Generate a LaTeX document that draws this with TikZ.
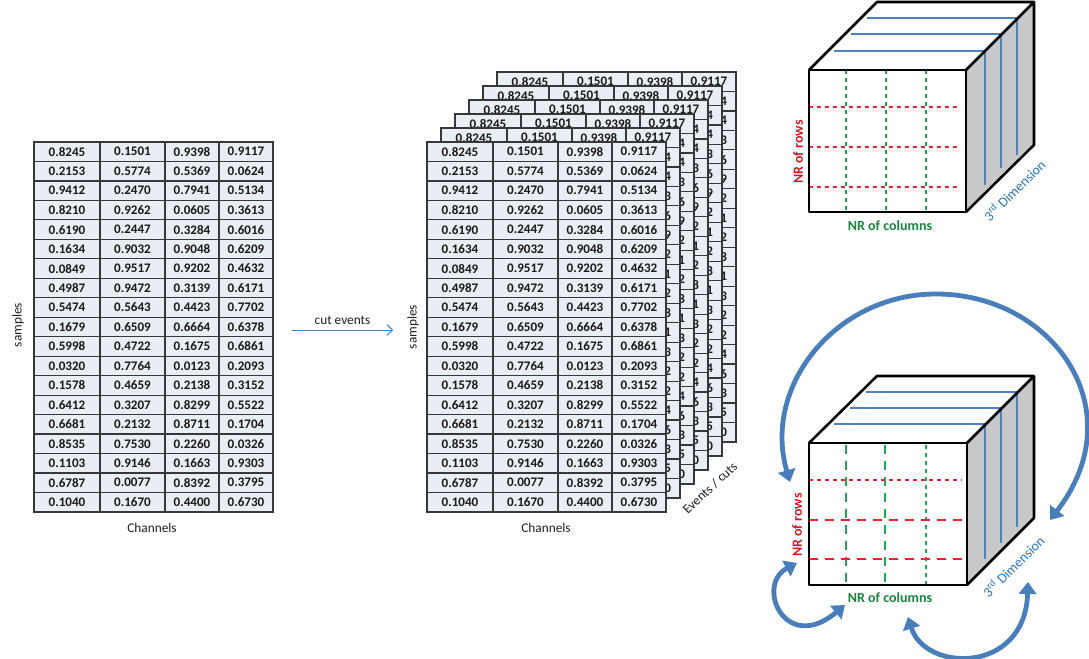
\documentclass[tikz,border=0pt]{standalone}
\usepackage{fontspec}
\setmainfont{Carlito}
\usetikzlibrary{arrows.meta}
\definecolor{cellfill}{RGB}{233,237,244}
\definecolor{gridline}{RGB}{55,55,60}
\definecolor{numtext}{RGB}{25,25,25}
\definecolor{labtext}{RGB}{30,30,30}
\definecolor{sidegray}{RGB}{200,200,200}
\definecolor{wireblue}{RGB}{79,129,189}
\definecolor{arcblue}{RGB}{74,126,187}
\definecolor{rowred}{RGB}{192,32,40}
\definecolor{dashred}{RGB}{226,40,50}
\definecolor{colgreen}{RGB}{25,130,60}
\definecolor{dashgreen}{RGB}{30,170,80}
\definecolor{dimblue}{RGB}{46,117,182}
\def\lastdigit#1.#2#3#4#5{#5}
\def\sampledata{0.8245/0.1501/0.9398/0.9117, 0.2153/0.5774/0.5369/0.0624,
 0.9412/0.2470/0.7941/0.5134, 0.8210/0.9262/0.0605/0.3613,
 0.6190/0.2447/0.3284/0.6016, 0.1634/0.9032/0.9048/0.6209,
 0.0849/0.9517/0.9202/0.4632, 0.4987/0.9472/0.3139/0.6171,
 0.5474/0.5643/0.4423/0.7702, 0.1679/0.6509/0.6664/0.6378,
 0.5998/0.4722/0.1675/0.6861, 0.0320/0.7764/0.0123/0.2093,
 0.1578/0.4659/0.2138/0.3152, 0.6412/0.3207/0.8299/0.5522,
 0.6681/0.2132/0.8711/0.1704, 0.8535/0.7530/0.2260/0.0326,
 0.1103/0.9146/0.1663/0.9303, 0.6787/0.0077/0.8392/0.3795,
 0.1040/0.1670/0.4400/0.6730}

\begin{document}
\begin{tikzpicture}[x=0.75pt,y=-0.75pt,>=stealth]
\fontsize{9.8pt}{11pt}\selectfont
\tikzstyle{num}=[font=\bfseries,text=numtext,inner sep=0pt]
\tikzstyle{tablegrid}=[draw=gridline,line width=0.9pt]
\tikzstyle{lab}=[font=\fontsize{10pt}{12pt}\selectfont,text=labtext,inner sep=1pt]
\tikzstyle{cutarrow}=[->,>={Straight Barb[length=4pt,width=8pt]},draw=wireblue,line width=0.7pt]
\tikzstyle{cubeline}=[line width=1.9pt,line join=round]
\tikzstyle{wire}=[draw=wireblue,line width=0.8pt]
\tikzstyle{thickwire}=[draw=wireblue,line width=1.6pt]
\tikzstyle{coldash}=[draw=dashgreen,line width=0.8pt,dash pattern=on 3pt off 3pt]
\tikzstyle{rowdash}=[draw=dashred,line width=0.8pt,dash pattern=on 3pt off 3pt]
\tikzstyle{thickcol}=[draw=dashgreen,line width=1.8pt,dash pattern=on 7pt off 5pt]
\tikzstyle{thickrow}=[draw=dashred,line width=1.8pt,dash pattern=on 7pt off 5pt]
\tikzstyle{cubelab}=[font=\fontsize{10.5pt}{12pt}\selectfont\bfseries,inner sep=1pt]
\tikzstyle{dimlab}=[font=\fontsize{10.5pt}{12pt}\selectfont,text=dimblue,inner sep=1pt,rotate=45]
\tikzstyle{bigarrow}=[{Triangle[length=9pt,width=13pt]}-{Triangle[length=9pt,width=13pt]},draw=arcblue,fill=none,line width=3.6pt]
\useasboundingbox (0,0) rectangle (1089,659);

	% left table, then the stack of cuts from back to front (hidden cells keep no text)
	\foreach \tx/\ty/\full [count=\kk] in {34/142/1,497/72/0,483/86/0,469/100/0,455/114/0,441/128/0,427/142/1}{
		\fill[cellfill] (\tx,\ty) rectangle ++(239,370);
		\foreach \va/\vb/\vc/\vd [count=\rr] in \sampledata{
			\pgfmathtruncatemacro\showall{(\full==1) || (\rr==1)}
			\ifnum\showall=1
				\node[num] (n\kk-\rr-1) at (\tx+33,\ty+\rr*19.47-9.74) {\va};
				\node[num] (n\kk-\rr-2) at (\tx+98.5,\ty+\rr*19.47-9.74) {\vb};
				\node[num] (n\kk-\rr-3) at (\tx+158,\ty+\rr*19.47-9.74) {\vc};
				\node[num] (n\kk-\rr-4) at (\tx+212,\ty+\rr*19.47-9.74) {\vd};
			\else
				\node[num,anchor=east] (n\kk-\rr-4) at (\tx+230.3,\ty+\rr*19.47-9.74) {\expandafter\lastdigit\vd};
			\fi
			\draw[tablegrid] (\tx,\ty+\rr*19.47) -- ++(239,0);
		}
		\draw[tablegrid] (\tx,\ty) rectangle ++(239,370);
		\draw[tablegrid] (\tx+66,\ty) -- ++(0,370) (\tx+131,\ty) -- ++(0,370) (\tx+185,\ty) -- ++(0,370);
	}

	\node[lab,rotate=90] (samplesL) at (18,325) {samples};
	\node[lab] (channelsL) at (152,528) {Channels};
	\node[lab,rotate=90] (samplesR) at (413,327) {samples};
	\node[lab] (channelsR) at (546,528) {Channels};
	\node[lab,rotate=43] (events) at (710,488) {Events / cuts};

	\coordinate (cutA) at (292,330);
	\coordinate (cutB) at (393,330);
	\draw[cutarrow] (cutA) -- node[lab,above=3pt] (cutlab) {cut events} (cutB);

	% upper cube
	\fill[sidegray] (966,70) -- (1034,2) -- (1034,145) -- (966,212) -- cycle;
	\draw[wire] (867,18) -- (1017,18) -- (1017,155);
	\draw[wire] (851,34) -- (1001,34) -- (1001,168);
	\draw[wire] (834,51) -- (985,51) -- (985,185);
	\foreach \cx in {846,886,926} \draw[coldash] (\cx,70) -- (\cx,212);
	\foreach \ry in {107,147,187} \draw[rowdash] (809,\ry) -- (958,\ry);
	\draw[cubeline] (809,70) rectangle (966,212);
	\draw[cubeline] (809,70) -- (877,2) -- (1034,2) -- (1034,145) -- (966,212) (966,70) -- (1034,2);
	\node[cubelab,rotate=90,text=rowred] (rows1) at (798,152) {NR of rows};
	\node[cubelab,text=colgreen] (cols1) at (890,226) {NR of columns};
	\node[dimlab] (dim1) at (1014,190) {3\textsuperscript{rd} Dimension};

	% lower cube
	\fill[sidegray] (967,443) -- (1034,376) -- (1034,518) -- (967,585) -- cycle;
	\draw[thickwire] (866,392) -- (1017,392) -- (1017,527);
	\draw[thickwire] (850,408) -- (1001,408) -- (1001,543);
	\draw[thickwire] (834,424) -- (985,424) -- (985,559);
	\draw[thickcol] (846,445) -- (846,585);
	\draw[thickcol] (885,445) -- (885,585);
	\draw[coldash] (926,445) -- (926,585);
	\draw[rowdash] (809,480) -- (962,480);
	\draw[thickrow] (809,520) -- (962,520);
	\draw[thickrow] (809,559) -- (962,559);
	\draw[cubeline] (809,443) rectangle (967,585);
	\draw[cubeline] (809,443) -- (877,376) -- (1034,376) -- (1034,518) -- (967,585) (967,443) -- (1034,376);
	\node[cubelab,rotate=90,text=rowred] (rows2) at (797,525) {NR of rows};
	\node[cubelab,text=colgreen] (cols2) at (890,598) {NR of columns};
	\node[dimlab] (dim2) at (1013,566) {3\textsuperscript{rd} Dimension};

	\coordinate (arcL) at (790,482);
	\coordinate (arcR) at (1050,520);
	\coordinate (loopA) at (797,563);
	\coordinate (loopB) at (845,605);
	\coordinate (loopC) at (908,617);
	\coordinate (loopD) at (1028,582);
	\draw[bigarrow] (arcL) .. controls (762,386) and (836,294) .. (936,294) .. controls (1053,294) and (1135,410) .. (arcR);
	\draw[bigarrow] (loopA) .. controls (755,585) and (785,655) .. (loopB);
	\draw[bigarrow] (loopC) .. controls (925,672) and (1025,675) .. (loopD);
\end{tikzpicture}
\end{document}
